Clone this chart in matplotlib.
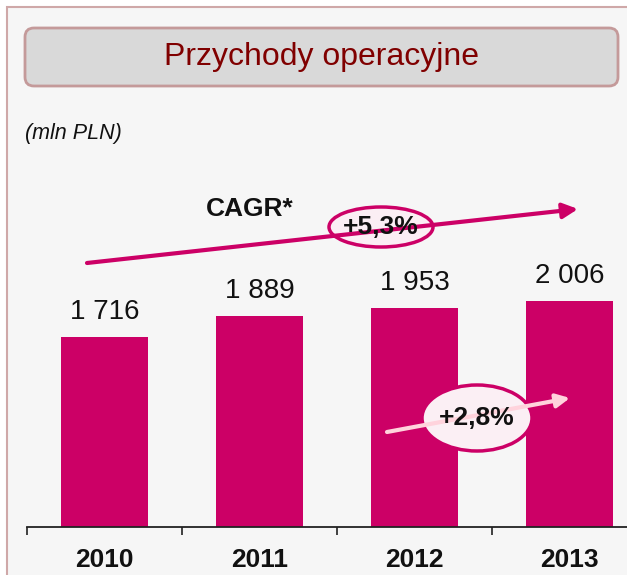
import matplotlib
matplotlib.use('Agg')
import matplotlib.pyplot as plt
from matplotlib.patches import Rectangle, FancyBboxPatch, Ellipse
import numpy as np

years = ['2010', '2011', '2012', '2013']
revenue = [1716, 1889, 1953, 2006]
value_labels = ['1 716', '1 889', '1 953', '2 006']
cagr_long = '+5,3%'
cagr_last = '+2,8%'

BAR = '#cc0066'
plt.rcParams['font.family'] = ['Liberation Sans', 'DejaVu Sans']

W, H = 627, 575
fig = plt.figure(figsize=(W / 100, H / 100), dpi=100)
fig.patch.set_facecolor('white')

# background layer (pixel coords, y down)
bg = fig.add_axes([0, 0, 1, 1], zorder=0)
bg.set_xlim(0, W)
bg.set_ylim(H, 0)
bg.axis('off')
bg.add_patch(Rectangle((7, 7), W + 20, H + 20, facecolor='#f6f6f6',
                       edgecolor='#cfa8a8', linewidth=1.5))
bg.add_patch(FancyBboxPatch((25, 28), 593, 58, boxstyle='round,pad=0,rounding_size=9',
                            facecolor='#d9d9d9', edgecolor='#c49a9a', linewidth=2))
bg.text(321.5, 57, 'Przychody operacyjne', ha='center', va='center',
        fontsize=23, color='#800000')
bg.text(25, 133, '(mln PLN)', ha='left', va='center', fontsize=15.5,
        style='italic', color='#111111')

# bar chart
ax = fig.add_axes([27 / W, 48 / H, 600 / W, 367 / H], zorder=1)
ax.patch.set_alpha(0)
x = np.arange(len(years))
ax.bar(x, revenue, width=0.56, color=BAR, zorder=2)
for xi, v, lab in zip(x, revenue, value_labels):
    ax.annotate(lab, (xi, v), xytext=(0, 13), textcoords='offset points',
                ha='center', va='baseline', fontsize=20, color='#111111')

for s in ['top', 'right', 'left']:
    ax.spines[s].set_visible(False)
ax.spines['bottom'].set_linewidth(1.3)
ax.spines['bottom'].set_color('#222222')
ax.set_yticks([])
ax.set_xticks(x)
ax.set_xticklabels(years, fontsize=19, fontweight='bold', color='#111111')
ax.tick_params(axis='x', which='major', length=0, pad=15)
ax.set_xticks(np.arange(-0.5, len(years)), minor=True)
ax.tick_params(axis='x', which='minor', length=6, width=1.2, color='#222222')
# limits after ticks, otherwise set_xticks widens the view
ax.set_xlim(-0.5, -0.5 + 600 / 155)
ax.set_ylim(188, 3144)

# overlay layer for CAGR arrows
ov = fig.add_axes([0, 0, 1, 1], zorder=2)
ov.set_xlim(0, W)
ov.set_ylim(H, 0)
ov.axis('off')

ov.annotate('', xy=(578, 209), xytext=(87, 263),
            arrowprops=dict(arrowstyle='-|>,head_length=0.9,head_width=0.45',
                            color=BAR, lw=3, shrinkA=0, shrinkB=0))
ov.add_patch(Ellipse((381, 227), 104, 40, facecolor='#fbeef4',
                     edgecolor=BAR, linewidth=2.5))
ov.text(381, 227, cagr_long, ha='center', va='center', fontsize=19,
        fontweight='bold', color='#111111')
ov.text(250, 209, 'CAGR*', ha='center', va='center', fontsize=19,
        fontweight='bold', color='#111111')

ov.annotate('', xy=(570, 398), xytext=(387, 432),
            arrowprops=dict(arrowstyle='-|>,head_length=0.8,head_width=0.4',
                            color='#ffd3dc', lw=3, shrinkA=0, shrinkB=0))
ov.add_patch(Ellipse((477, 418), 110, 66, facecolor='#fbeff4',
                     edgecolor=BAR, linewidth=2.5))
ov.text(477, 418, cagr_last, ha='center', va='center', fontsize=19,
        fontweight='bold', color='#111111')

fig.savefig('out.png', dpi=100)
